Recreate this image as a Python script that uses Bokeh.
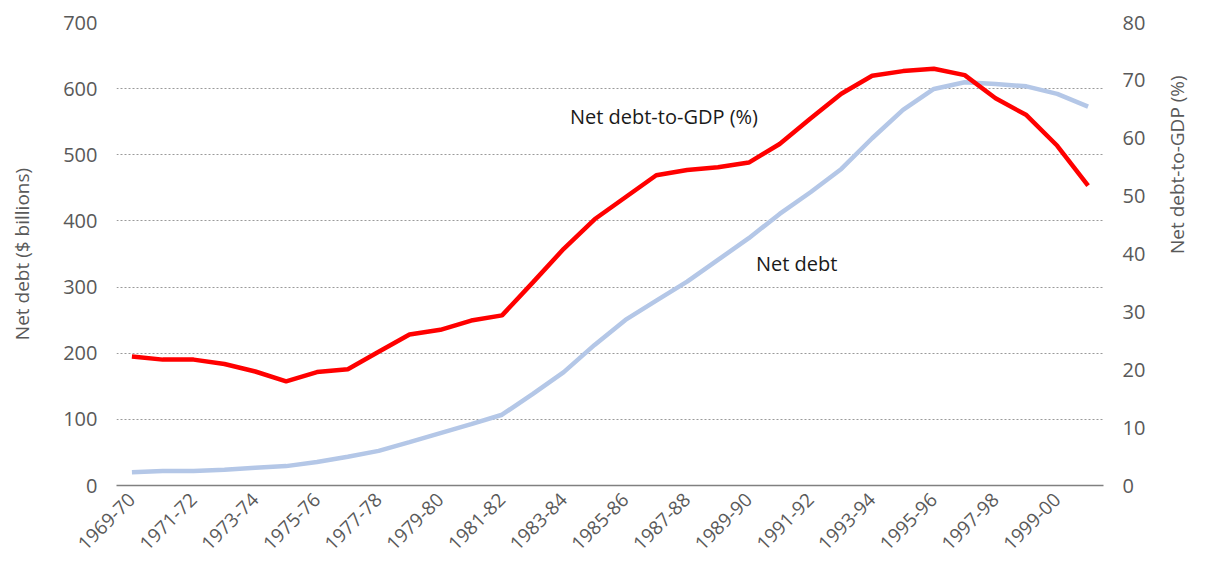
import math
from bokeh.plotting import figure
from bokeh.models import (Range1d, LinearAxis, FixedTicker, Label)
from bokeh.embed import file_html
from bokeh.resources import INLINE

years = ["1969-70", "1970-71", "1971-72", "1972-73", "1973-74", "1974-75", "1975-76", "1976-77",
         "1977-78", "1978-79", "1979-80", "1980-81", "1981-82", "1982-83", "1983-84", "1984-85",
         "1985-86", "1986-87", "1987-88", "1988-89", "1989-90", "1990-91", "1991-92", "1992-93",
         "1993-94", "1994-95", "1995-96", "1996-97", "1997-98", "1998-99", "1999-00", "2000-01"]

net_debt = [20.2, 21.8, 21.8, 23.7, 26.7, 29.3, 35.4, 43.4, 52.4, 65.6, 79.2, 92.8, 107.0, 138.6,
            171.4, 212.6, 250.4, 279.6, 308.3, 341.1, 373.9, 410.6, 443.4, 478.6, 525.0, 567.8,
            599.5, 609.6, 607.0, 603.5, 592.0, 572.8]

net_debt_gdp = [22.3, 21.75, 21.75, 21.0, 19.7, 18.0, 19.6, 20.1, 23.1, 26.1, 26.9, 28.5, 29.4,
                35.1, 40.9, 46.0, 49.8, 53.6, 54.5, 55.0, 55.8, 59.0, 63.4, 67.7, 70.8, 71.6,
                72.0, 70.9, 66.9, 64.0, 58.7, 51.8]

left_ticks = [0, 100, 200, 300, 400, 500, 600, 700]
right_ticks = [0, 10, 20, 30, 40, 50, 60, 70, 80]

FONT = "Open Sans"
GREY = "#595959"

idx = list(range(len(years)))

p = figure(width=1208, height=561, output_backend="svg", toolbar_location=None,
           x_range=Range1d(-0.5, len(years) - 0.5), y_range=Range1d(0, 700),
           min_border_left=116, min_border_right=105, min_border_top=22, min_border_bottom=76)
p.outline_line_color = None
p.background_fill_color = "white"
p.border_fill_color = "white"

p.extra_y_ranges = {"pct": Range1d(0, 80)}

# lines
p.line(idx, net_debt, line_color="#B4C7E7", line_width=4.5)
p.line(idx, net_debt_gdp, line_color="#FF0000", line_width=4.5, y_range_name="pct")

# grids
p.xgrid.grid_line_color = None
p.ygrid.ticker = FixedTicker(ticks=left_ticks[1:])
p.ygrid.grid_line_color = "#9a9a9a"
p.ygrid.grid_line_dash = "2 2"
p.ygrid.grid_line_width = 1

def no_ticks(ax):
    ax.major_tick_line_color = None
    ax.minor_tick_line_color = None
    ax.major_tick_in = 0
    ax.major_tick_out = 0
    ax.minor_tick_in = 0
    ax.minor_tick_out = 0

# x axis
xa = p.xaxis[0]
no_ticks(xa)
xa.ticker = FixedTicker(ticks=idx[::2])
xa.major_label_overrides = {i: years[i] for i in idx}
xa.major_label_orientation = math.pi / 4
xa.axis_line_color = "#808080"
xa.axis_line_width = 1.5
xa.major_label_text_font = FONT
xa.major_label_text_font_size = "19px"
xa.major_label_text_color = GREY
xa.major_label_standoff = 11

# left axis
ya = p.yaxis[0]
no_ticks(ya)
ya.ticker = FixedTicker(ticks=left_ticks)
ya.axis_line_color = None
ya.major_label_text_font = FONT
ya.major_label_text_font_size = "20px"
ya.major_label_text_color = GREY
ya.major_label_standoff = 19
ya.axis_label = "Net debt ($ billions)"
ya.axis_label_text_font = FONT
ya.axis_label_text_font_size = "19px"
ya.axis_label_text_font_style = "normal"
ya.axis_label_text_color = GREY
ya.axis_label_standoff = 25

# right axis
ra = LinearAxis(y_range_name="pct", ticker=FixedTicker(ticks=right_ticks))
no_ticks(ra)
ra.axis_line_color = None
ra.major_label_text_font = FONT
ra.major_label_text_font_size = "20px"
ra.major_label_text_color = GREY
ra.major_label_standoff = 19
ra.axis_label = "Net debt-to-GDP (%)"
ra.axis_label_text_font = FONT
ra.axis_label_text_font_size = "19px"
ra.axis_label_text_font_style = "normal"
ra.axis_label_text_color = GREY
ra.axis_label_standoff = 29
if "axis_label_orientation" in ra.properties():
    ra.axis_label_orientation = math.pi / 2
p.add_layout(ra, "right")

# annotations
p.add_layout(Label(x=14.2, y=558, text="Net debt-to-GDP (%)", text_font=FONT,
                   text_font_size="20px", text_color="#1a1a1a", text_baseline="middle",
                   text_align="left"))
p.add_layout(Label(x=20.23, y=336, text="Net debt", text_font=FONT,
                   text_font_size="20px", text_color="#1a1a1a", text_baseline="middle",
                   text_align="left"))

open("out.html", "w").write(file_html(p, INLINE))
